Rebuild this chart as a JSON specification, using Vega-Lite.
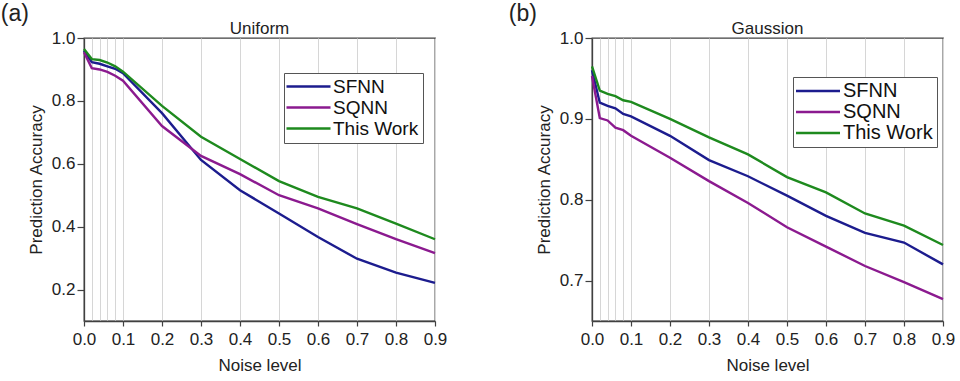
{
  "$schema": "https://vega.github.io/schema/vega-lite/v6.json",
  "background": "white",
  "padding": {"left": 0, "top": 3, "right": 5, "bottom": 5},
  "config": {
    "font": "Liberation Sans",
    "view": {"stroke": "#404040", "strokeWidth": 1.3},
    "axis": {
      "domainColor": "#404040", "domainWidth": 1.3, "tickColor": "#404040", "tickWidth": 1.2,
      "labelColor": "#222222", "titleColor": "#222222", "labelFont": "Liberation Sans", "titleFont": "Liberation Sans",
      "labelFontSize": 17, "titleFontSize": 17, "titleFontWeight": "normal"
    },
    "title": {"font": "Liberation Sans", "fontWeight": "normal", "color": "#222222"},
    "legend": {"labelFont": "Liberation Sans"}
  },
  "datasets": {
    "uniform": [
      {"model": "SFNN", "noise": 0, "acc": 0.96}, {"model": "SFNN", "noise": 0.02, "acc": 0.923}, {"model": "SFNN", "noise": 0.04, "acc": 0.918}, {"model": "SFNN", "noise": 0.06, "acc": 0.91}, {"model": "SFNN", "noise": 0.08, "acc": 0.902}, {"model": "SFNN", "noise": 0.1, "acc": 0.888}, {"model": "SFNN", "noise": 0.2, "acc": 0.761}, {"model": "SFNN", "noise": 0.3, "acc": 0.612}, {"model": "SFNN", "noise": 0.4, "acc": 0.516}, {"model": "SFNN", "noise": 0.5, "acc": 0.442}, {"model": "SFNN", "noise": 0.6, "acc": 0.367}, {"model": "SFNN", "noise": 0.7, "acc": 0.298}, {"model": "SFNN", "noise": 0.8, "acc": 0.254}, {"model": "SFNN", "noise": 0.9, "acc": 0.221},
      {"model": "SQNN", "noise": 0, "acc": 0.955}, {"model": "SQNN", "noise": 0.02, "acc": 0.904}, {"model": "SQNN", "noise": 0.04, "acc": 0.9}, {"model": "SQNN", "noise": 0.06, "acc": 0.892}, {"model": "SQNN", "noise": 0.08, "acc": 0.88}, {"model": "SQNN", "noise": 0.1, "acc": 0.864}, {"model": "SQNN", "noise": 0.2, "acc": 0.72}, {"model": "SQNN", "noise": 0.3, "acc": 0.625}, {"model": "SQNN", "noise": 0.4, "acc": 0.567}, {"model": "SQNN", "noise": 0.5, "acc": 0.5}, {"model": "SQNN", "noise": 0.6, "acc": 0.458}, {"model": "SQNN", "noise": 0.7, "acc": 0.408}, {"model": "SQNN", "noise": 0.8, "acc": 0.36}, {"model": "SQNN", "noise": 0.9, "acc": 0.316},
      {"model": "This Work", "noise": 0, "acc": 0.965}, {"model": "This Work", "noise": 0.02, "acc": 0.933}, {"model": "This Work", "noise": 0.04, "acc": 0.93}, {"model": "This Work", "noise": 0.06, "acc": 0.922}, {"model": "This Work", "noise": 0.08, "acc": 0.91}, {"model": "This Work", "noise": 0.1, "acc": 0.893}, {"model": "This Work", "noise": 0.2, "acc": 0.784}, {"model": "This Work", "noise": 0.3, "acc": 0.686}, {"model": "This Work", "noise": 0.4, "acc": 0.615}, {"model": "This Work", "noise": 0.5, "acc": 0.545}, {"model": "This Work", "noise": 0.6, "acc": 0.495}, {"model": "This Work", "noise": 0.7, "acc": 0.458}, {"model": "This Work", "noise": 0.8, "acc": 0.41}, {"model": "This Work", "noise": 0.9, "acc": 0.36}
    ],
    "gauss": [
      {"model": "SFNN", "noise": 0, "acc": 0.96}, {"model": "SFNN", "noise": 0.02, "acc": 0.92}, {"model": "SFNN", "noise": 0.04, "acc": 0.916}, {"model": "SFNN", "noise": 0.06, "acc": 0.913}, {"model": "SFNN", "noise": 0.08, "acc": 0.906}, {"model": "SFNN", "noise": 0.1, "acc": 0.903}, {"model": "SFNN", "noise": 0.2, "acc": 0.879}, {"model": "SFNN", "noise": 0.3, "acc": 0.849}, {"model": "SFNN", "noise": 0.4, "acc": 0.829}, {"model": "SFNN", "noise": 0.5, "acc": 0.805}, {"model": "SFNN", "noise": 0.6, "acc": 0.78}, {"model": "SFNN", "noise": 0.7, "acc": 0.759}, {"model": "SFNN", "noise": 0.8, "acc": 0.747}, {"model": "SFNN", "noise": 0.9, "acc": 0.72},
      {"model": "SQNN", "noise": 0, "acc": 0.953}, {"model": "SQNN", "noise": 0.02, "acc": 0.901}, {"model": "SQNN", "noise": 0.04, "acc": 0.898}, {"model": "SQNN", "noise": 0.06, "acc": 0.889}, {"model": "SQNN", "noise": 0.08, "acc": 0.886}, {"model": "SQNN", "noise": 0.1, "acc": 0.879}, {"model": "SQNN", "noise": 0.2, "acc": 0.852}, {"model": "SQNN", "noise": 0.3, "acc": 0.823}, {"model": "SQNN", "noise": 0.4, "acc": 0.796}, {"model": "SQNN", "noise": 0.5, "acc": 0.766}, {"model": "SQNN", "noise": 0.6, "acc": 0.742}, {"model": "SQNN", "noise": 0.7, "acc": 0.718}, {"model": "SQNN", "noise": 0.8, "acc": 0.698}, {"model": "SQNN", "noise": 0.9, "acc": 0.677},
      {"model": "This Work", "noise": 0, "acc": 0.965}, {"model": "This Work", "noise": 0.02, "acc": 0.935}, {"model": "This Work", "noise": 0.04, "acc": 0.931}, {"model": "This Work", "noise": 0.06, "acc": 0.928}, {"model": "This Work", "noise": 0.08, "acc": 0.923}, {"model": "This Work", "noise": 0.1, "acc": 0.921}, {"model": "This Work", "noise": 0.2, "acc": 0.9}, {"model": "This Work", "noise": 0.3, "acc": 0.877}, {"model": "This Work", "noise": 0.4, "acc": 0.856}, {"model": "This Work", "noise": 0.5, "acc": 0.828}, {"model": "This Work", "noise": 0.6, "acc": 0.809}, {"model": "This Work", "noise": 0.7, "acc": 0.783}, {"model": "This Work", "noise": 0.8, "acc": 0.768}, {"model": "This Work", "noise": 0.9, "acc": 0.744}
    ]
  },
  "spacing": 60,
  "resolve": {"legend": {"color": "independent"}, "scale": {"color": "independent"}},
  "hconcat": [
    {
      "title": {"text": "(a)", "anchor": "start", "frame": "bounds", "fontSize": 23, "dx": -26, "offset": -7},
      "vconcat": [
        {
          "title": {"text": "Uniform", "fontSize": 17, "offset": -9, "anchor": "middle"},
          "width": 351, "height": 283,
          "data": {"name": "uniform"},
          "mark": {"type": "line", "strokeWidth": 2.4},
          "encoding": {
            "x": {"field": "noise", "type": "quantitative", "title": "Noise level",
              "scale": {"domain": [0, 0.9], "nice": false, "zero": false},
              "axis": {"values": [0, 0.02, 0.04, 0.06, 0.08, 0.1, 0.2, 0.3, 0.4, 0.5, 0.6, 0.7, 0.8, 0.9],
                "grid": true, "gridColor": "#d6d6d6", "gridWidth": 1,
                "labelExpr": "round(datum.value*100) % 10 == 0 ? format(datum.value, '.1f') : ''",
                "labelOverlap": false, "labelFlush": false,
                "tickSize": 5, "tickOpacity": {"condition": {"test": "round(datum.value*100) % 10 != 0", "value": 0}, "value": 1},
                "labelPadding": 5, "titlePadding": 10}},
            "y": {"field": "acc", "type": "quantitative", "title": "Prediction Accuracy",
              "scale": {"domain": [0.1, 1.0], "nice": false, "zero": false},
              "axis": {"values": [0.2, 0.4, 0.6, 0.8, 1.0], "format": ".1f", "grid": false, "tickSize": 7, "labelPadding": 2, "titlePadding": 6}},
            "color": {"field": "model", "type": "nominal",
              "scale": {"domain": ["SFNN", "SQNN", "This Work"], "range": ["#1c1c8e", "#8b1a8f", "#1e8a1e"]},
              "legend": {"title": null, "orient": "none", "legendX": 200, "legendY": 35,
                "strokeColor": "#555555", "fillColor": "white", "padding": 4,
                "symbolType": "M-4,0H4", "symbolSize": 121, "symbolStrokeWidth": 2.5, "symbolOffset": 11,
                "labelFontSize": 19, "labelColor": "#111111", "labelOffset": 15, "rowPadding": 1}}
          }
        }
      ]
    },
    {
      "title": {"text": "(b)", "anchor": "start", "frame": "bounds", "fontSize": 23, "dx": -26, "offset": -7},
      "vconcat": [
        {
          "title": {"text": "Gaussion", "fontSize": 17, "offset": -9, "anchor": "middle"},
          "width": 351, "height": 283,
          "data": {"name": "gauss"},
          "mark": {"type": "line", "strokeWidth": 2.4},
          "encoding": {
            "x": {"field": "noise", "type": "quantitative", "title": "Noise level",
              "scale": {"domain": [0, 0.9], "nice": false, "zero": false},
              "axis": {"values": [0, 0.02, 0.04, 0.06, 0.08, 0.1, 0.2, 0.3, 0.4, 0.5, 0.6, 0.7, 0.8, 0.9],
                "grid": true, "gridColor": "#d6d6d6", "gridWidth": 1,
                "labelExpr": "round(datum.value*100) % 10 == 0 ? format(datum.value, '.1f') : ''",
                "labelOverlap": false, "labelFlush": false,
                "tickSize": 5, "tickOpacity": {"condition": {"test": "round(datum.value*100) % 10 != 0", "value": 0}, "value": 1},
                "labelPadding": 5, "titlePadding": 10}},
            "y": {"field": "acc", "type": "quantitative", "title": "Prediction Accuracy",
              "scale": {"domain": [0.65, 1.0], "nice": false, "zero": false},
              "axis": {"values": [0.7, 0.8, 0.9, 1.0], "format": ".1f", "grid": false, "tickSize": 7, "labelPadding": 2, "titlePadding": 6}},
            "color": {"field": "model", "type": "nominal",
              "scale": {"domain": ["SFNN", "SQNN", "This Work"], "range": ["#1c1c8e", "#8b1a8f", "#1e8a1e"]},
              "legend": {"title": null, "orient": "none", "legendX": 201, "legendY": 39,
                "strokeColor": "#555555", "fillColor": "white", "padding": 4,
                "symbolType": "M-4,0H4", "symbolSize": 121, "symbolStrokeWidth": 2.5, "symbolOffset": 11,
                "labelFontSize": 20, "labelColor": "#111111", "labelOffset": 15, "rowPadding": 1}}
          }
        }
      ]
    }
  ]
}
